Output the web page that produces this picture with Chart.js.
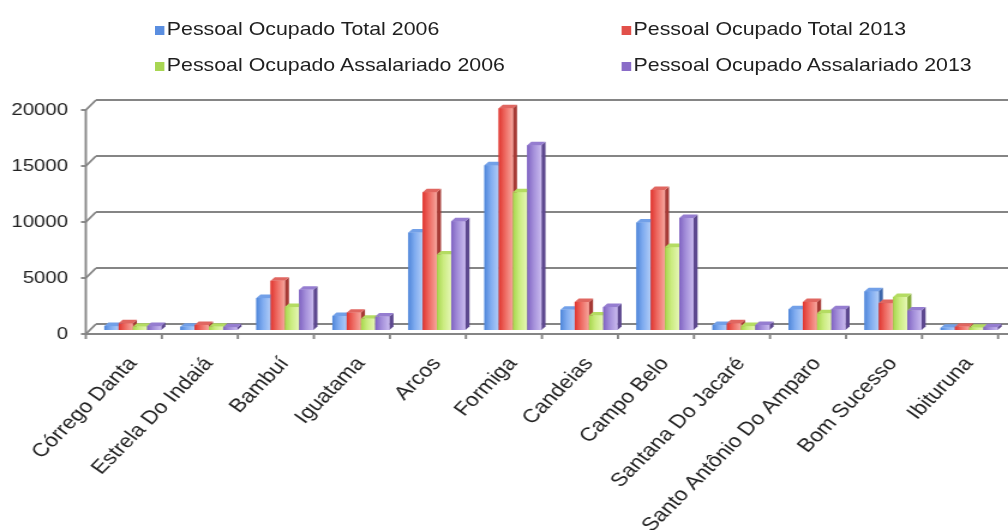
<!DOCTYPE html>
<html>
<head>
<meta charset="utf-8">
<script src="https://cdn.jsdelivr.net/npm/chart.js@4/dist/chart.umd.min.js"></script>
<style>
  html, body { margin: 0; padding: 0; background: #ffffff; overflow: hidden; }
  #stage {
    position: absolute; left: 0; top: 0;
    width: 840px; height: 530px;
    transform: scaleX(1.2); transform-origin: 0 0;
  }
  #stage canvas { position: absolute; left: 0; top: 0; }
  .leg {
    position: absolute;
    font: 17.8px "Liberation Sans", Arial, sans-serif;
    color: #1f1f1f; white-space: nowrap; line-height: 20px;
  }
  .leg i {
    display: inline-block; width: 8px; height: 9px;
    margin-right: 2px; vertical-align: 0px;
  }
</style>
</head>
<body>
<div id="stage">
  <canvas id="chart"></canvas>
  <div id="legend"></div>
</div>
<script>
// Municípios
const categories = [
  'Córrego Danta', 'Estrela Do Indaiá', 'Bambuí', 'Iguatama', 'Arcos', 'Formiga',
  'Candeias', 'Campo Belo', 'Santana Do Jacaré', 'Santo Antônio Do Amparo',
  'Bom Sucesso', 'Ibituruna'
];

const seriesNames = [
  'Pessoal Ocupado Total 2006',
  'Pessoal Ocupado Total 2013',
  'Pessoal Ocupado Assalariado 2006',
  'Pessoal Ocupado Assalariado 2013'
];

const totalOcupado2006       = [350, 300, 2850, 1250, 8700, 14700, 1800, 9600, 450, 1850, 3450, 200];
const totalOcupado2013       = [600, 450, 4400, 1550, 12300, 19800, 2500, 12500, 600, 2500, 2400, 300];
const assalariado2006        = [300, 300, 2050, 1000, 6750, 12300, 1300, 7400, 350, 1500, 2950, 200];
const assalariado2013        = [350, 250, 3600, 1200, 9700, 16500, 2050, 10000, 450, 1850, 1750, 250];

const yTicks = [0, 5000, 10000, 15000, 20000];

// Shading for each series: front-face gradient, side face, top face
const palette = [
  { base: '#5a8ee0', stops: ['#4f86da', '#80acf0', '#b0ccf7'], side: '#3d66aa', top: '#72a0e8' },
  { base: '#e2504a', stops: ['#e0352f', '#ee6a62', '#f6a69d'], side: '#a63a35', top: '#e06660' },
  { base: '#a8d653', stops: ['#a6d64c', '#cbec80', '#e6f7b5'], side: '#84aa3c', top: '#b4dc62' },
  { base: '#8a6cc8', stops: ['#7f62c2', '#a48fda', '#cabbef'], side: '#5d488f', top: '#957dd0' }
];

const seriesValues = [totalOcupado2006, totalOcupado2013, assalariado2006, assalariado2013];

// Offsets of the front edge, back wall and bar depth relative to the bar plane
const FRONT = { dx: -7.5, dy: 4 };
const BACK = { dx: 1, dy: -6 };
const BAR = { dx: 3.4, dy: -3.5 };
const LINE = '#858585';

const frame3d = {
  id: 'frame3d',
  beforeDatasetsDraw(chart) {
    const { ctx, chartArea, scales: { x, y } } = chart;
    const { left, right } = chartArea;
    ctx.save();
    ctx.strokeStyle = LINE;
    ctx.lineWidth = 1.9;
    ctx.lineCap = 'butt';
    const axisX = left + FRONT.dx;

    const line = (x1, y1, x2, y2) => {
      ctx.beginPath(); ctx.moveTo(x1, y1); ctx.lineTo(x2, y2); ctx.stroke();
    };

    yTicks.forEach(v => {
      const py = y.getPixelForValue(v);
      // back wall gridline
      line(left + BACK.dx, py + BACK.dy, right + 10, py + BACK.dy);
      // left wall edge
      line(axisX, py + FRONT.dy, left + BACK.dx, py + BACK.dy);
      // tick mark on the value axis
      line(axisX - 4, py + FRONT.dy, axisX, py + FRONT.dy);
    });

    // value axis
    line(axisX, y.getPixelForValue(20000) + FRONT.dy, axisX, y.getPixelForValue(0) + FRONT.dy);

    // front floor edge with category separators
    const y0 = y.getPixelForValue(0) + FRONT.dy;
    line(axisX, y0, right + 10, y0);
    const n = categories.length;
    const step = (x.getPixelForValue(n - 1) - x.getPixelForValue(0)) / (n - 1);
    for (let k = 0; k <= n; k++) {
      const bx = x.getPixelForValue(0) - step / 2 + k * step + FRONT.dx;
      line(bx, y0, bx, y0 + 5);
    }
    ctx.restore();
  },
  afterDatasetsDraw(chart) {
    const { ctx } = chart;
    const metas = chart.getSortedVisibleDatasetMetas();
    ctx.save();
    for (let i = 0; i < categories.length; i++) {
      metas.forEach(meta => {
        const el = meta.data[i];
        const p = el.getProps(['x', 'y', 'base', 'width'], true);
        const c = palette[meta.index];
        const l = p.x - p.width / 2, r = p.x + p.width / 2;
        const t = Math.min(p.y, p.base), b = Math.max(p.y, p.base);

        // side face
        ctx.fillStyle = c.side;
        ctx.beginPath();
        ctx.moveTo(r, t); ctx.lineTo(r + BAR.dx, t + BAR.dy);
        ctx.lineTo(r + BAR.dx, b + BAR.dy); ctx.lineTo(r, b);
        ctx.closePath(); ctx.fill();

        // top face
        ctx.fillStyle = c.top;
        ctx.beginPath();
        ctx.moveTo(l, t); ctx.lineTo(l + BAR.dx, t + BAR.dy);
        ctx.lineTo(r + BAR.dx, t + BAR.dy); ctx.lineTo(r, t);
        ctx.closePath(); ctx.fill();

        // front face
        const g = ctx.createLinearGradient(l, 0, r, 0);
        g.addColorStop(0, c.stops[0]);
        g.addColorStop(0.45, c.stops[1]);
        g.addColorStop(1, c.stops[2]);
        ctx.fillStyle = g;
        ctx.fillRect(l, t, r - l, b - t);
      });
    }
    ctx.restore();
  }
};

const chart = new Chart(document.getElementById('chart'), {
  type: 'bar',
  data: {
    labels: categories,
    datasets: seriesNames.map((name, i) => ({
      label: name,
      data: seriesValues[i],
      backgroundColor: palette[i].base,
      borderWidth: 0,
      barPercentage: 1,
      categoryPercentage: 0.75
    }))
  },
  options: {
    responsive: true,
    maintainAspectRatio: false,
    animation: false,
    layout: { padding: { top: 106, right: 0, bottom: 0, left: 0 } },
    plugins: { legend: { display: false }, tooltip: { enabled: false } },
    scales: {
      x: {
        grid: { display: false },
        border: { display: false },
        ticks: {
          autoSkip: false, minRotation: 50, maxRotation: 50,
          padding: 15, color: '#222222',
          font: { family: '"Liberation Sans", Arial, sans-serif', size: 19 }
        },
        afterFit(scale) { scale.height = 200; }
      },
      y: {
        min: 0, max: 20000,
        grid: { display: false },
        border: { display: false },
        ticks: {
          stepSize: 5000, padding: 14.3, labelOffset: 4, color: '#222222',
          font: { family: '"Liberation Sans", Arial, sans-serif', size: 17 },
          callback: v => String(v)
        },
        afterFit(scale) { scale.width = 79; }
      }
    }
  },
  plugins: [frame3d]
});

// Two-column legend built from the datasets
const legendPos = [
  { left: 129, top: 19 }, { left: 518, top: 19 },
  { left: 129, top: 55 }, { left: 518, top: 55 }
];
const legendEl = document.getElementById('legend');
chart.data.datasets.forEach((ds, i) => {
  const item = document.createElement('div');
  item.className = 'leg';
  item.style.left = legendPos[i].left + 'px';
  item.style.top = legendPos[i].top + 'px';
  const box = document.createElement('i');
  box.style.background = ds.backgroundColor;
  item.appendChild(box);
  item.appendChild(document.createTextNode(ds.label));
  legendEl.appendChild(item);
});
</script>
</body>
</html>
